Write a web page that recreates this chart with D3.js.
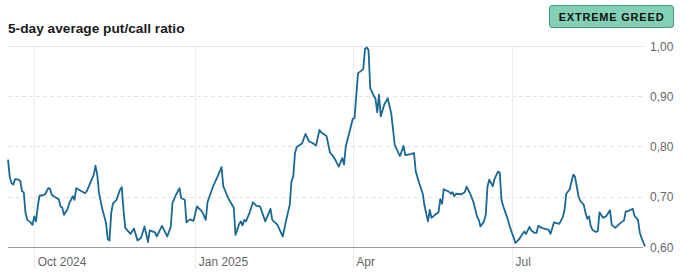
<!DOCTYPE html>
<html>
<head>
<meta charset="utf-8">
<script src="https://cdn.jsdelivr.net/npm/d3@7"></script>
<style>
  body { margin: 0; background: #fff; }
  svg { display: block; font-family: "Liberation Sans", Arial, sans-serif; }
</style>
</head>
<body>
<div id="chart"></div>
<script>
// 5-day average put/call ratio
const dates = [
  "2024-09-16","2024-09-17","2024-09-18","2024-09-19","2024-09-20","2024-09-22","2024-09-23","2024-09-24","2024-09-25","2024-09-26","2024-09-27","2024-09-29","2024-09-30",
  "2024-10-01","2024-10-02","2024-10-03","2024-10-04","2024-10-06","2024-10-07","2024-10-09","2024-10-10","2024-10-11","2024-10-13","2024-10-15","2024-10-16","2024-10-17","2024-10-18","2024-10-20","2024-10-21","2024-10-22","2024-10-23","2024-10-24","2024-10-25","2024-10-27","2024-10-30","2024-10-31",
  "2024-11-02","2024-11-04","2024-11-05","2024-11-06","2024-11-07","2024-11-09","2024-11-11","2024-11-12","2024-11-13","2024-11-14","2024-11-15","2024-11-17","2024-11-19","2024-11-20","2024-11-21","2024-11-22","2024-11-25","2024-11-27","2024-11-29",
  "2024-12-01","2024-12-03","2024-12-05","2024-12-06","2024-12-09","2024-12-10","2024-12-13","2024-12-16","2024-12-18","2024-12-19","2024-12-21","2024-12-23","2024-12-24","2024-12-26","2024-12-27","2024-12-29","2024-12-31",
  "2025-01-02","2025-01-05","2025-01-07","2025-01-08","2025-01-11","2025-01-14","2025-01-16","2025-01-17","2025-01-20","2025-01-23","2025-01-24","2025-01-26","2025-01-27","2025-01-28","2025-01-29","2025-01-30",
  "2025-02-01","2025-02-03","2025-02-05","2025-02-07","2025-02-10","2025-02-13","2025-02-14","2025-02-17","2025-02-18","2025-02-20","2025-02-22","2025-02-24","2025-02-25","2025-02-26","2025-02-27","2025-02-28",
  "2025-03-03","2025-03-05","2025-03-07","2025-03-09","2025-03-11","2025-03-13","2025-03-14","2025-03-17","2025-03-19","2025-03-20","2025-03-22","2025-03-24","2025-03-26","2025-03-27","2025-03-28","2025-03-30",
  "2025-04-01","2025-04-02","2025-04-04","2025-04-06","2025-04-07","2025-04-08","2025-04-09","2025-04-10","2025-04-11","2025-04-13","2025-04-14","2025-04-15","2025-04-16","2025-04-17","2025-04-19","2025-04-21","2025-04-23","2025-04-25","2025-04-27","2025-04-28","2025-04-30",
  "2025-05-01","2025-05-04","2025-05-06","2025-05-07","2025-05-09","2025-05-11","2025-05-12","2025-05-14","2025-05-15","2025-05-16","2025-05-18","2025-05-20","2025-05-21","2025-05-22","2025-05-23","2025-05-26","2025-05-27","2025-05-28","2025-05-29","2025-05-30",
  "2025-06-02","2025-06-04","2025-06-05","2025-06-07","2025-06-09","2025-06-11","2025-06-12","2025-06-13","2025-06-15","2025-06-16","2025-06-17","2025-06-18","2025-06-20","2025-06-21","2025-06-23","2025-06-24","2025-06-25","2025-06-26","2025-06-28","2025-06-30",
  "2025-07-01","2025-07-03","2025-07-05","2025-07-06","2025-07-08","2025-07-09","2025-07-11","2025-07-12","2025-07-14","2025-07-15","2025-07-16","2025-07-18","2025-07-20","2025-07-22","2025-07-23","2025-07-25","2025-07-26","2025-07-28","2025-07-30","2025-07-31",
  "2025-08-01","2025-08-03","2025-08-04","2025-08-05","2025-08-06","2025-08-08","2025-08-09","2025-08-11","2025-08-12","2025-08-13","2025-08-14","2025-08-15","2025-08-16","2025-08-18","2025-08-19","2025-08-20","2025-08-22","2025-08-24","2025-08-25","2025-08-26","2025-08-27","2025-08-29",
  "2025-09-01","2025-09-03","2025-09-04","2025-09-05","2025-09-08","2025-09-09","2025-09-11","2025-09-12","2025-09-13","2025-09-15"
];

const ratios = [
  0.774,0.740,0.727,0.724,0.735,0.734,0.732,0.711,0.709,0.668,0.654,0.649,0.644,
  0.661,0.651,0.681,0.702,0.703,0.704,0.717,0.716,0.704,0.699,0.695,0.681,0.678,0.664,0.675,0.687,0.694,0.701,0.694,0.717,0.713,0.707,0.711,
  0.727,0.744,0.762,0.744,0.707,0.674,0.648,0.616,0.613,0.668,0.687,0.694,0.714,0.719,0.674,0.638,0.626,0.637,0.613,
  0.618,0.641,0.610,0.633,0.629,0.621,0.642,0.621,0.640,0.688,0.704,0.717,0.697,0.694,0.649,0.655,0.652,
  0.681,0.670,0.654,0.689,0.719,0.742,0.759,0.721,0.696,0.678,0.624,0.645,0.651,0.643,0.654,0.651,
  0.668,0.689,0.682,0.681,0.651,0.676,0.654,0.644,0.636,0.621,0.654,0.684,0.731,0.740,0.787,0.799,
  0.806,0.825,0.810,0.807,0.802,0.833,0.828,0.821,0.788,0.784,0.774,0.760,0.777,0.764,0.800,0.827,
  0.855,0.856,0.946,0.951,0.954,0.994,0.997,0.992,0.916,0.901,0.895,0.868,0.903,0.860,0.883,0.896,0.866,0.803,0.788,0.781,0.801,
  0.783,0.785,0.787,0.750,0.727,0.706,0.682,0.651,0.674,0.658,0.664,0.669,0.695,0.686,0.715,0.710,0.706,0.709,0.701,0.706,
  0.705,0.709,0.720,0.707,0.689,0.661,0.654,0.641,0.651,0.664,0.721,0.734,0.721,0.735,0.750,0.748,0.693,0.681,0.661,0.638,
  0.628,0.608,0.615,0.621,0.631,0.626,0.640,0.633,0.628,0.628,0.642,0.638,0.636,0.634,0.626,0.649,0.648,0.646,0.659,0.673,
  0.706,0.715,0.730,0.744,0.740,0.701,0.692,0.684,0.668,0.656,0.661,0.642,0.634,0.630,0.631,0.669,0.658,0.662,0.668,0.673,0.644,0.638,
  0.648,0.653,0.671,0.671,0.676,0.662,0.654,0.629,0.618,0.601
];

const yTicks = [0.6, 0.7, 0.8, 0.9, 1.0];
const monthTicks = ["2024-10-01", "2025-01-01", "2025-04-01", "2025-07-01"];
const title = "5-day average put/call ratio";
const rating = "EXTREME GREED";

const width = 687, height = 272;
const margin = { top: 46, right: 42, bottom: 25, left: 8 };

const parseDate = d3.timeParse("%Y-%m-%d");
const data = dates.map((d, i) => ({ date: parseDate(d), value: ratios[i] }));

// comma as decimal mark, like the source
const locale = d3.formatLocale({ decimal: ",", thousands: ".", grouping: [3], currency: ["", ""] });
const fmtY = locale.format(".2f");

const svg = d3.select("#chart").append("svg")
    .attr("width", width)
    .attr("height", height);

const x = d3.scaleTime()
    .domain(d3.extent(data, d => d.date))
    .range([margin.left, width - margin.right]);

const y = d3.scaleLinear()
    .domain([0.6, 1.0])
    .range([height - margin.bottom, margin.top]);

// title
svg.append("text")
    .attr("x", 8)
    .attr("y", 33)
    .attr("font-size", 13.7)
    .attr("font-weight", 700)
    .attr("fill", "#1a1a1a")
    .text(title);

// rating badge
const badge = svg.append("g").attr("transform", "translate(549.5,5.5)");
badge.append("rect")
    .attr("width", 124)
    .attr("height", 22)
    .attr("rx", 2.5)
    .attr("fill", "#82d1b6")
    .attr("stroke", "#4a9a82");
badge.append("text")
    .attr("x", 62)
    .attr("y", 15.3)
    .attr("text-anchor", "middle")
    .attr("font-size", 11)
    .attr("font-weight", 700)
    .attr("letter-spacing", 0.8)
    .attr("fill", "#111")
    .text(rating);

// vertical month lines
const months = monthTicks.map(parseDate);
svg.append("g")
    .selectAll("line")
    .data(months)
    .join("line")
    .attr("x1", d => Math.round(x(d)) + 0.5)
    .attr("x2", d => Math.round(x(d)) + 0.5)
    .attr("y1", margin.top)
    .attr("y2", height - 4)
    .attr("stroke", "#ececec");

// horizontal grid
svg.append("g")
    .selectAll("line")
    .data(yTicks)
    .join("line")
    .attr("x1", margin.left)
    .attr("x2", width - margin.right - 2)
    .attr("y1", d => Math.round(y(d)) + 0.5)
    .attr("y2", d => Math.round(y(d)) + 0.5)
    .attr("stroke", d => d === 0.6 ? "#9a9a9a" : "#e2e2e2")
    .attr("stroke-dasharray", d => (d === 0.6 || d === 1.0) ? null : "4,3");

// y labels on the right
svg.append("g")
    .selectAll("text")
    .data(yTicks)
    .join("text")
    .attr("x", 650)
    .attr("y", d => y(d) + 4.5)
    .attr("font-size", 12)
    .attr("fill", "#666")
    .text(d => fmtY(d));

// month labels
svg.append("g")
    .selectAll("text")
    .data(months)
    .join("text")
    .attr("x", d => x(d) + 3.5)
    .attr("y", 265.5)
    .attr("font-size", 12)
    .attr("fill", "#666")
    .text((d, i) => (i === 0 || d.getMonth() === 0) ? d3.timeFormat("%b %Y")(d) : d3.timeFormat("%b")(d));

// the line
const line = d3.line()
    .x(d => x(d.date))
    .y(d => y(d.value));

svg.append("path")
    .datum(data)
    .attr("fill", "none")
    .attr("stroke", "#1a6894")
    .attr("stroke-width", 1.8)
    .attr("stroke-linejoin", "round")
    .attr("d", line);
</script>
</body>
</html>
